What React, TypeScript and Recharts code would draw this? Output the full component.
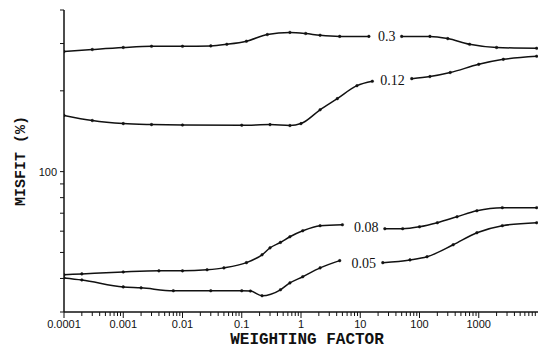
import React from "react"
import { LineChart, Line, XAxis, YAxis, ReferenceDot } from "recharts"

// Misfit vs weighting factor, log-log, four curves labelled in-line.

const X_DECADES = [0.0001, 0.001, 0.01, 0.1, 1, 10, 100, 1000]
const X_LABELS = ["0.0001", "0.001", "0.01", "0.1", "1", "10", "100", "1000"]
const Y_TICKS = [30, 40, 50, 60, 70, 80, 90, 100, 200, 300, 400]
const Y_LABELLED = [100]

const X_03 = [0.0001, 0.0003, 0.001, 0.003, 0.01, 0.03, 0.056, 0.12, 0.27, 0.65, 1.2, 2.1, 4.5, 14, 28, 50, 150, 300, 700, 2000, 9500]
const Y_03 = [280, 285, 290, 293, 293, 294, 298, 306, 324, 330, 327, 322, 319, 319, null, 319, 319, 313, 298, 290, 288]

const X_012 = [0.0001, 0.0003, 0.001, 0.003, 0.01, 0.1, 0.3, 0.65, 1.0, 2.1, 4.1, 8.8, 16, 35, 74, 150, 330, 1000, 2600, 9500]
const Y_012 = [162, 155, 151, 149.7, 149.1, 148.9, 149.7, 148.5, 151, 170, 187, 209, 217, null, 222, 226, 234, 251, 262, 269]

const X_008 = [0.0001, 0.0002, 0.001, 0.004, 0.01, 0.026, 0.05, 0.12, 0.22, 0.3, 0.45, 0.65, 1.07, 2.1, 5, 12, 26, 52, 100, 200, 430, 930, 2500, 9500]
const Y_008 = [41.3, 41.6, 42.3, 42.7, 42.7, 43.1, 43.8, 45.8, 49.0, 52.0, 54.5, 57.2, 60.2, 62.9, 63.4, null, 61.3, 61.3, 62.3, 64.5, 67.9, 71.5, 73.4, 73.4]

const X_005 = [0.0001, 0.0002, 0.001, 0.002, 0.007, 0.03, 0.1, 0.14, 0.22, 0.45, 0.65, 1.07, 2.1, 4.5, 11, 24, 69, 134, 370, 930, 2500, 9500]
const Y_005 = [40.2, 39.5, 37.2, 36.9, 36.0, 36.0, 36.0, 35.9, 34.5, 36.3, 38.5, 40.6, 43.8, 46.6, null, 45.8, 46.9, 48.2, 53.4, 59.2, 62.9, 64.5]

// curve labels: text, x, y (data coords, sitting in the gap of each line)
const CURVE_LABELS = ["0.3", "0.12", "0.08", "0.05"]
const LABEL_X = [28, 35, 12.6, 11.5]
const LABEL_Y = [319, 220, 62.3, 45.8]

const zip = (xs: number[], ys: (number | null)[]) => xs.map((x, i) => ({ x, y: ys[i] }))

const SERIES = [zip(X_03, Y_03), zip(X_012, Y_012), zip(X_008, Y_008), zip(X_005, Y_005)]

// minor ticks 2..9 within each decade
const X_TICKS: number[] = []
X_DECADES.forEach((d) => {
  for (let k = 1; k <= 9; k++) X_TICKS.push(+(d * k).toPrecision(3))
})

const INK = "#111"
const TICK_FONT = "'Liberation Sans', Arial, sans-serif"
const TITLE_FONT = "'Liberation Mono', 'Courier New', monospace"

function XTick(props: any) {
  const { x, y, payload } = props
  const idx = X_DECADES.indexOf(payload.value)
  const major = idx >= 0
  return (
    <g>
      <line x1={x} x2={x} y1={y} y2={y + (major ? 6 : 4)} stroke={INK} strokeWidth={1} />
      {major && (
        <text x={x} y={y + 16} textAnchor="middle" fontSize={11} fontFamily={TICK_FONT} fill={INK}>
          {X_LABELS[idx]}
        </text>
      )}
    </g>
  )
}

function YTick(props: any) {
  const { x, y, payload } = props
  const labelled = Y_LABELLED.includes(payload.value)
  return (
    <g>
      <line x1={x - 4} x2={x} y1={y} y2={y} stroke={INK} strokeWidth={1} />
      {labelled && (
        <text x={x - 7} y={y + 4} textAnchor="end" fontSize={11} fontFamily={TICK_FONT} fill={INK}>
          {payload.value}
        </text>
      )}
    </g>
  )
}

export default function App() {
  return (
    <div style={{ position: "absolute", left: 0, top: 0, background: "#fff" }}>
      <LineChart width={540} height={350} margin={{ top: 10, right: 2, left: 24, bottom: 8 }}>
        <XAxis
          dataKey="x"
          type="number"
          scale="log"
          domain={[0.0001, 10000]}
          allowDataOverflow
          ticks={X_TICKS}
          interval={0}
          tick={<XTick />}
          tickSize={0}
          tickMargin={0}
          tickLine={false}
          height={30}
          axisLine={{ stroke: INK, strokeWidth: 1.5 }}
          label={{
            value: "WEIGHTING FACTOR",
            position: "insideBottom",
            offset: -2,
            dx: 6,
            fontSize: 16,
            fontWeight: "bold",
            fontFamily: TITLE_FONT,
            fill: INK,
          }}
        />
        <YAxis
          dataKey="y"
          type="number"
          scale="log"
          domain={[30, 400]}
          allowDataOverflow
          ticks={Y_TICKS}
          interval={0}
          tick={<YTick />}
          tickSize={0}
          tickMargin={0}
          tickLine={false}
          width={40}
          axisLine={{ stroke: INK, strokeWidth: 1.5 }}
          label={{
            value: "MISFIT (%)",
            angle: -90,
            position: "insideLeft",
            offset: -4,
            fontSize: 15,
            fontWeight: "bold",
            fontFamily: TITLE_FONT,
            fill: INK,
            style: { textAnchor: "middle" },
          }}
        />
        {SERIES.map((data, i) => (
          <Line
            key={CURVE_LABELS[i]}
            data={data}
            dataKey="y"
            type="monotone"
            stroke={INK}
            strokeWidth={1.5}
            dot={{ r: 1.3, fill: INK, stroke: INK, strokeWidth: 0.5 }}
            isAnimationActive={false}
          />
        ))}
        {CURVE_LABELS.map((t, i) => (
          <ReferenceDot
            key={t}
            x={LABEL_X[i]}
            y={LABEL_Y[i]}
            r={0}
            fill="none"
            stroke="none"
            label={{
              value: t,
              position: "center",
              fontSize: 14,
              fontFamily: "'Liberation Serif', 'Times New Roman', serif",
              fill: INK,
            }}
          />
        ))}
      </LineChart>
    </div>
  )
}
